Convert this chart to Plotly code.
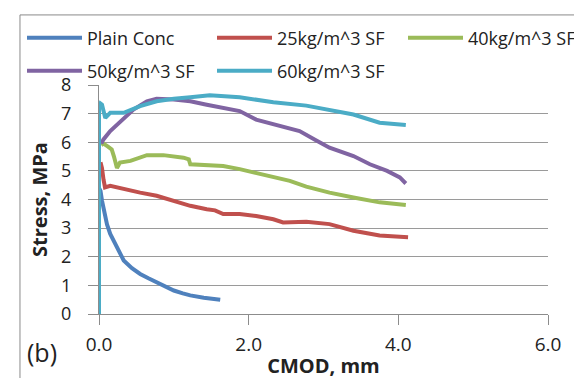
import plotly.graph_objects as go

# Plain Conc
plain_x = [0.0, 0.02, 0.04, 0.07, 0.107, 0.15, 0.196, 0.26, 0.33, 0.44, 0.55, 0.66, 0.77, 0.9, 1.0, 1.12, 1.22, 1.4, 1.62]
plain_y = [4.4, 4.3, 3.96, 3.5, 3.13, 2.8, 2.56, 2.2, 1.87, 1.6, 1.40, 1.25, 1.11, 0.95, 0.82, 0.72, 0.65, 0.57, 0.5]

# 25 kg/m^3 SF
sf25_x = [0.02, 0.04, 0.06, 0.08, 0.15, 0.33, 0.55, 0.77, 1.0, 1.22, 1.44, 1.55, 1.66, 1.88, 2.1, 2.33, 2.46, 2.77, 3.08, 3.4, 3.75, 3.95, 4.13]
sf25_y = [5.3, 5.1, 4.7, 4.42, 4.48, 4.36, 4.24, 4.13, 3.96, 3.78, 3.66, 3.62, 3.49, 3.49, 3.42, 3.31, 3.2, 3.22, 3.14, 2.91, 2.74, 2.7, 2.68]

# 40 kg/m^3 SF
sf40_x = [0.03, 0.06, 0.12, 0.17, 0.2, 0.22, 0.24, 0.28, 0.42, 0.64, 0.86, 1.13, 1.2, 1.22, 1.44, 1.66, 1.88, 2.2, 2.55, 2.77, 3.08, 3.4, 3.75, 4.1]
sf40_y = [5.9, 5.95, 5.85, 5.75, 5.5, 5.23, 5.1, 5.29, 5.35, 5.55, 5.55, 5.46, 5.4, 5.23, 5.2, 5.17, 5.06, 4.88, 4.65, 4.45, 4.24, 4.07, 3.9, 3.81]

# 50 kg/m^3 SF
sf50_x = [0.03, 0.06, 0.15, 0.24, 0.33, 0.46, 0.64, 0.77, 1.0, 1.22, 1.44, 1.66, 1.88, 2.1, 2.33, 2.5, 2.68, 2.88, 3.08, 3.4, 3.62, 3.85, 4.02, 4.1]
sf50_y = [5.95, 6.1, 6.39, 6.62, 6.85, 7.14, 7.43, 7.52, 7.49, 7.43, 7.31, 7.2, 7.09, 6.79, 6.62, 6.5, 6.39, 6.1, 5.81, 5.52, 5.23, 5.0, 4.77, 4.56]

# 60 kg/m^3 SF
sf60_x = [0.0, 0.0, 0.02, 0.04, 0.084, 0.15, 0.33, 0.55, 0.77, 1.0, 1.22, 1.48, 1.88, 2.33, 2.77, 3.08, 3.4, 3.75, 4.1]
sf60_y = [0.0, 7.2, 7.35, 7.31, 6.85, 7.03, 7.03, 7.26, 7.43, 7.52, 7.57, 7.64, 7.57, 7.4, 7.28, 7.14, 6.97, 6.68, 6.6]

x_ticks = [0, 2, 4, 6]
x_tick_labels = ["0.0", "2.0", "4.0", "6.0"]
y_ticks = [0, 1, 2, 3, 4, 5, 6, 7, 8]

names = ["Plain Conc", "25kg/m^3 SF", "40kg/m^3 SF", "50kg/m^3 SF", "60kg/m^3 SF"]
xs_all = [plain_x, sf25_x, sf40_x, sf50_x, sf60_x]
ys_all = [plain_y, sf25_y, sf40_y, sf50_y, sf60_y]
colors = ["#4F81BD", "#C0504D", "#9BBB59", "#8064A2", "#4BACC6"]
# legend slot (column, row) for each series, as in the reference layout
leg_col = [0, 1, 2, 0, 1]
leg_row = [0, 0, 0, 1, 1]

W, H = 582, 378
col_px = [14, 204, 395]
row_px = [30, 63]

FF = "'Open Sans', sans-serif"
TXT = "#222222"

fig = go.Figure()
legend_layouts = {}
for i, name in enumerate(names):
    lg = "legend" if i == 0 else f"legend{i + 1}"
    fig.add_trace(go.Scatter(x=xs_all[i], y=ys_all[i], mode="lines", name=name,
                             legend=lg, line=dict(color=colors[i], width=4)))
    legend_layouts[lg] = dict(
        orientation="h", xref="container", yref="container",
        xanchor="left", yanchor="middle",
        x=col_px[leg_col[i]] / W, y=1 - row_px[leg_row[i]] / H,
        itemwidth=55, font=dict(size=18, color=TXT, family=FF),
        bgcolor="rgba(0,0,0,0)", borderwidth=0)

fig.update_layout(
    width=W, height=H,
    margin=dict(l=91, r=42, t=77, b=72, autoexpand=False),
    paper_bgcolor="white", plot_bgcolor="white",
    font=dict(family=FF, color=TXT),
    showlegend=True,
    xaxis=dict(range=[0, 6], tickvals=x_ticks, ticktext=x_tick_labels,
               showgrid=False, zeroline=False, showline=True, linecolor="#8c8c8c",
               linewidth=1, ticks="outside", ticklen=10, tickcolor="#8c8c8c",
               tickfont=dict(size=19, color=TXT), ticklabelstandoff=3,
               title=dict(text="<b>CMOD, mm</b>", font=dict(size=20, color=TXT), standoff=3)),
    yaxis=dict(range=[0, 8], tickvals=y_ticks,
               showgrid=True, gridcolor="#9a9a9a", gridwidth=1, zeroline=False,
               showline=True, linecolor="#8c8c8c", linewidth=1, ticks="outside",
               ticklen=10, tickcolor="#8c8c8c", tickfont=dict(size=18, color=TXT),
               ticklabelstandoff=13,
               title=dict(text="<b>Stress, MPa</b>", font=dict(size=20, color=TXT), standoff=8)),
    shapes=[dict(type="rect", xref="paper", yref="paper",
                 x0=-0.176, x1=1.071, y0=-0.288, y1=1.306,
                 line=dict(color="#8a8a8a", width=1), fillcolor="rgba(0,0,0,0)", layer="below")],
    annotations=[dict(text="(b)", xref="paper", yref="paper", x=-0.165, y=-0.166,
                      xanchor="left", yanchor="middle", showarrow=False,
                      font=dict(size=25, color=TXT))],
    **legend_layouts,
)

fig.write_html("out.html")
